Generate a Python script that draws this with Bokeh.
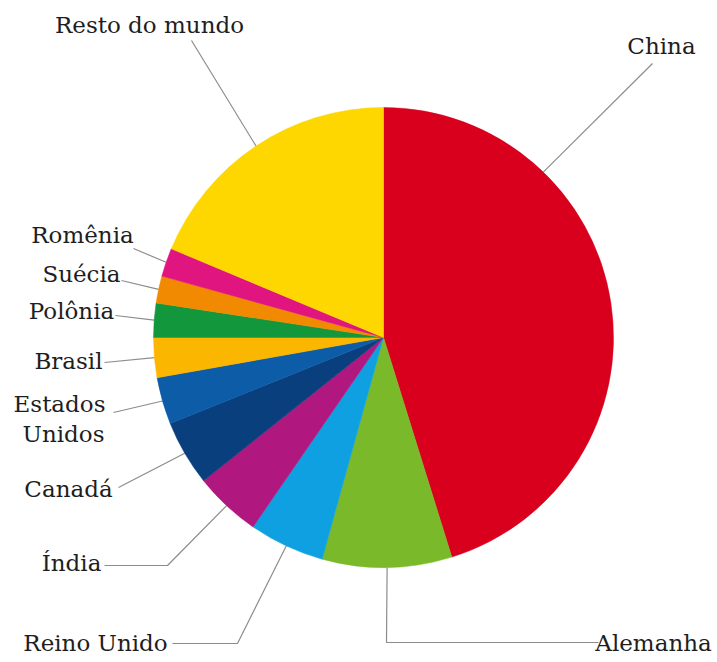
import math
from bokeh.plotting import figure
from bokeh.models import Range1d, ColumnDataSource
from bokeh.core.properties import value
from bokeh.embed import file_html
from bokeh.resources import INLINE

# ---------------- data ----------------
countries = ["China", "Alemanha", "Reino Unido", "Índia", "Canadá",
             "Estados Unidos", "Brasil", "Polônia", "Suécia", "Romênia",
             "Resto do mundo"]
shares = [45.2, 9.1, 5.3, 4.7, 4.6, 3.3, 2.8, 2.4, 1.9, 2.0, 18.7]
colors = ["#D9001E", "#7AB929", "#0EA0E0", "#B0177F", "#0A3F7E",
          "#0C5CA8", "#FBB600", "#13973C", "#F18A00", "#E1157F", "#FFD700"]

# ---------------- layout (pixel space, y measured from top) ----------------
W, H = 717, 662
CX, CY, R = 383, 337, 230

# label text lines: (text, x-centre, vertical centre)
label_lines = {
    "China": [("China", 661, 45)],
    "Alemanha": [("Alemanha", 653, 642)],
    "Reino Unido": [("Reino Unido", 95, 642)],
    "Índia": [("Índia", 71, 562)],
    "Canadá": [("Canadá", 68, 488)],
    "Estados Unidos": [("Estados", 59, 403), ("Unidos", 63, 433)],
    "Brasil": [("Brasil", 68, 360)],
    "Polônia": [("Polônia", 71, 310)],
    "Suécia": [("Suécia", 81, 273)],
    "Romênia": [("Romênia", 82, 234)],
    "Resto do mundo": [("Resto do mundo", 149, 24)],
}
# leader line points from label side towards the pie
leader_pts = {
    "China": [(652, 63)],
    "Alemanha": [(598, 642), (386, 642)],
    "Reino Unido": [(172, 643), (237, 643)],
    "Índia": [(104, 565), (167, 565)],
    "Canadá": [(118, 487)],
    "Estados Unidos": [(113, 412)],
    "Brasil": [(104, 362)],
    "Polônia": [(115, 315)],
    "Suécia": [(121, 280)],
    "Romênia": [(133, 248)],
    "Resto do mundo": [(191, 40)],
}
anchor_override = {"China": 44.0}  # degrees clockwise from top


def fy(y_px):
    return H - y_px


total = sum(shares)
starts, ends, mids = [], [], []
acc = 0.0
for s in shares:
    a0 = acc / total * 2 * math.pi
    acc += s
    a1 = acc / total * 2 * math.pi
    starts.append(math.pi / 2 - a0)
    ends.append(math.pi / 2 - a1)
    mids.append((a0 + a1) / 2)

p = figure(width=W, height=H, output_backend="svg", toolbar_location=None,
           x_range=Range1d(0, W), y_range=Range1d(0, H),
           x_axis_type=None, y_axis_type=None, min_border=0,
           background_fill_color="white", border_fill_color="white")
p.grid.visible = False
p.outline_line_color = None

# leader lines
xs, ys = [], []
for i, c in enumerate(countries):
    th = math.radians(anchor_override[c]) if c in anchor_override else mids[i]
    ex = CX + R * math.sin(th)
    ey = CY - R * math.cos(th)
    pts = leader_pts[c] + [(ex, ey)]
    xs.append([q[0] for q in pts])
    ys.append([fy(q[1]) for q in pts])
p.multi_line(xs=xs, ys=ys, line_color="#8C8C8C", line_width=1.2)

# pie
src = ColumnDataSource(dict(country=countries, share=shares, color=colors,
                            start=starts, end=ends))
p.wedge(x=CX, y=fy(CY), radius=R, start_angle="start", end_angle="end",
        direction="clock", fill_color="color", line_color="color",
        line_width=0.5, source=src)

# labels
tx, ty, tt = [], [], []
for c in countries:
    for (t, x, b) in label_lines[c]:
        tx.append(x)
        ty.append(fy(b))
        tt.append(t)
p.text(x=tx, y=ty, text=tt,
       text_font=value("DejaVu Serif"),
       text_font_size="23px", text_align="center", text_baseline="middle",
       text_color="#1E1E1E")

open("out.html", "w").write(file_html(p, INLINE))
